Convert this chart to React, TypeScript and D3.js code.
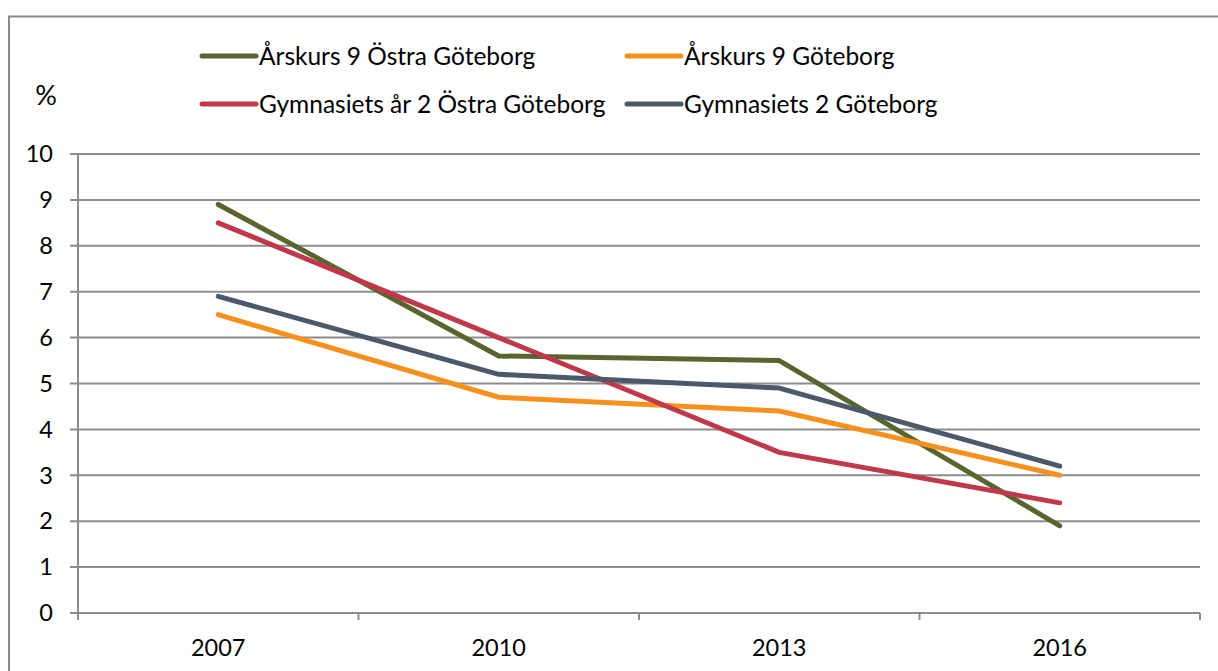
import React from "react";
import * as d3 from "d3";

const years = ["2007", "2010", "2013", "2016"];
const yTicks = [0, 1, 2, 3, 4, 5, 6, 7, 8, 9, 10];
const seriesNames = [
  "Årskurs 9 Östra Göteborg",
  "Årskurs 9 Göteborg",
  "Gymnasiets år 2 Östra Göteborg",
  "Gymnasiets 2 Göteborg",
];
const arskurs9Ostra = [8.9, 5.6, 5.5, 1.9];
const arskurs9Gbg = [6.5, 4.7, 4.4, 3.0];
const gymOstra = [8.5, 6.0, 3.5, 2.4];
const gymGbg = [6.9, 5.2, 4.9, 3.2];
const colors = ["#58652F", "#F7901E", "#C0394A", "#4A5A68"];

export default function App() {
  const W = 1218, H = 671;
  const left = 78, right = 1200, top = 154, bottom = 613;
  const x = d3.scaleBand<string>().domain(years).range([left, right]).padding(0);
  const y = d3.scaleLinear().domain([0, 10]).range([bottom, top]);
  const data = [arskurs9Ostra, arskurs9Gbg, gymOstra, gymGbg];
  const line = d3
    .line<number>()
    .x((_, i) => (x(years[i]) as number) + x.bandwidth() / 2)
    .y((v) => y(v));
  const font = "Lato, 'Open Sans', sans-serif";
  const legendPos = [
    { x: 200, y: 56 },
    { x: 625, y: 56 },
    { x: 200, y: 104 },
    { x: 625, y: 104 },
  ];
  const boundaries = [...years.map((yr) => x(yr) as number), right];
  return (
    <svg
      width={W}
      height={H}
      style={{ position: "absolute", left: 0, top: 0, background: "#fff" }}
      fontFamily={font}
    >
      <rect x={0} y={0} width={W} height={H} fill="#fff" />
      <path d={`M9,${H + 5}V16.5H${W + 5}`} fill="none" stroke="#8a8a8a" strokeWidth={2} />
      {yTicks.map((t) => (
        <g key={t}>
          <line x1={70} x2={right} y1={y(t)} y2={y(t)} stroke="#8c8c8c" strokeWidth={2} />
          <text x={53} y={y(t)} dy="0.35em" textAnchor="end" fontSize={23.5} fill="#000">
            {t}
          </text>
        </g>
      ))}
      <line x1={left} x2={left} y1={top} y2={bottom + 7} stroke="#8c8c8c" strokeWidth={2} />
      {boundaries.map((b, i) => (
        <line key={i} x1={b} x2={b} y1={bottom} y2={bottom + 7} stroke="#8c8c8c" strokeWidth={2} />
      ))}
      {years.map((yr) => (
        <text
          key={yr}
          x={(x(yr) as number) + x.bandwidth() / 2}
          y={648}
          dy="0.35em"
          textAnchor="middle"
          fontSize={23.5}
          fill="#000"
        >
          {yr}
        </text>
      ))}
      <text x={46} y={96} dy="0.35em" textAnchor="middle" fontSize={27} fill="#000">
        %
      </text>
      {data.map((d, i) => (
        <path
          key={i}
          d={line(d) || ""}
          fill="none"
          stroke={colors[i]}
          strokeWidth={5}
          strokeLinejoin="round"
          strokeLinecap="round"
        />
      ))}
      {seriesNames.map((n, i) => (
        <g key={n}>
          <line
            x1={legendPos[i].x + 2}
            x2={legendPos[i].x + 56}
            y1={legendPos[i].y}
            y2={legendPos[i].y}
            stroke={colors[i]}
            strokeWidth={5}
            strokeLinecap="round"
          />
          <text x={legendPos[i].x + 59} y={legendPos[i].y} dy="0.35em" fontSize={24.5} fill="#000">
            {n}
          </text>
        </g>
      ))}
    </svg>
  );
}
